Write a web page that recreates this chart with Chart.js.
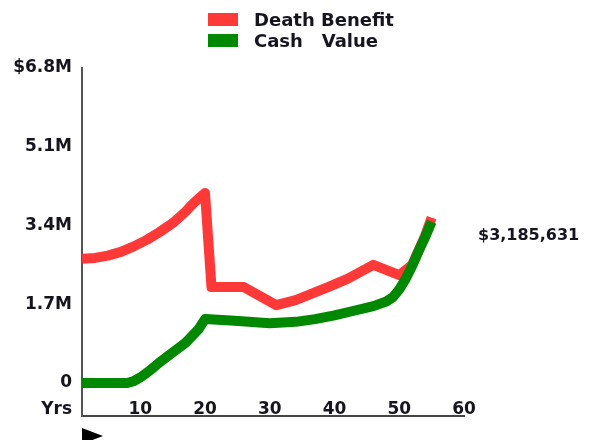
<!DOCTYPE html>
<html>
<head>
<meta charset="utf-8">
<script src="https://cdn.jsdelivr.net/npm/chart.js@4"></script>
<style>
  body { margin: 0; background: #fff; }
  #wrap { width: 597px; height: 440px; }
</style>
</head>
<body>
<div id="wrap"><canvas id="myChart" width="597" height="440"></canvas></div>
<script>
// values in millions of dollars, x = policy year
const benefitYears = [1, 3, 5, 7, 9, 11, 13, 15, 17, 18, 19, 20, 21, 26, 31, 34, 39, 42, 46, 50, 52, 54, 55];
const benefitValues = [2.68, 2.70, 2.75, 2.83, 2.95, 3.09, 3.26, 3.45, 3.70, 3.85, 3.98, 4.10, 2.07, 2.07, 1.68, 1.79, 2.07, 2.25, 2.55, 2.33, 2.55, 3.18, 3.57];

const cashYears = [1, 8, 9, 10, 11, 12, 13, 15, 17, 19, 20, 24, 30, 34, 37, 40, 43, 46, 48, 49, 50, 51, 52, 53, 54, 55];
const cashValues = [0, 0, 0.04, 0.12, 0.22, 0.33, 0.45, 0.66, 0.87, 1.16, 1.38, 1.35, 1.29, 1.32, 1.38, 1.46, 1.56, 1.66, 1.76, 1.85, 2.02, 2.25, 2.53, 2.85, 3.15, 3.48];

const yTickValues = [0, 1.7, 3.4, 5.1, 6.8];
const yTickLabels = ['0', '1.7M', '3.4M', '5.1M', '$6.8M'];
const xTickValues = [10, 20, 30, 40, 50, 60];
const xTickLabels = ['10', '20', '30', '40', '50', '60'];
const xAxisLabel = 'Yrs';
const finalValue = 3185631;

const textColor = '#151520';
const fontFamily = "'DejaVu Sans', sans-serif";

const toPoints = (xs, ys) => xs.map((x, i) => ({ x: x, y: ys[i] }));

// legend, x labels, side value, "Yrs" and the little arrow
const extras = {
    id: 'extras',
    afterDraw(chart) {
        const ctx = chart.ctx;
        const area = chart.chartArea;
        const xScale = chart.scales.x;
        const yScale = chart.scales.y;
        ctx.save();

        // legend (stacked, left aligned)
        ctx.font = 'bold 18px ' + fontFamily;
        ctx.textBaseline = 'middle';
        ctx.textAlign = 'left';
        const items = [chart.data.datasets[1], chart.data.datasets[0]];
        items.forEach((ds, i) => {
            const y = 20 + i * 21;
            ctx.fillStyle = ds.borderColor;
            ctx.fillRect(208, y - 7, 30, 13);
            ctx.fillStyle = textColor;
            ctx.fillText(ds.label, 254, y + 1);
        });

        // x tick labels sit just above the axis line
        ctx.font = 'bold 17px ' + fontFamily;
        ctx.textAlign = 'center';
        xTickValues.forEach((v, i) => {
            ctx.fillText(xTickLabels[i], xScale.getPixelForValue(v), area.bottom - 6);
        });

        // Yrs
        ctx.textAlign = 'right';
        ctx.fillText(xAxisLabel, area.left - 10, area.bottom - 6);

        // value at the right
        ctx.font = 'bold 16px ' + fontFamily;
        ctx.textAlign = 'left';
        ctx.fillText('$' + finalValue.toLocaleString('en-US'), area.right + 14, yScale.getPixelForValue(finalValue / 1e6));

        // arrow under the axis
        ctx.fillStyle = '#000';
        ctx.beginPath();
        ctx.moveTo(area.left, area.bottom + 12);
        ctx.lineTo(area.left + 21, area.bottom + 20);
        ctx.lineTo(area.left, area.bottom + 28);
        ctx.closePath();
        ctx.fill();
        ctx.restore();
    }
};

new Chart(document.getElementById('myChart'), {
    type: 'line',
    data: {
        datasets: [{
            label: 'Cash   Value',
            data: toPoints(cashYears, cashValues),
            borderColor: 'rgb(0, 136, 0)',
            borderWidth: 10,
            pointRadius: 0,
            tension: 0,
            borderJoinStyle: 'round',
            order: 0
        }, {
            label: 'Death Benefit',
            data: toPoints(benefitYears, benefitValues),
            borderColor: 'rgb(255, 56, 56)',
            borderWidth: 10,
            pointRadius: 0,
            tension: 0,
            borderJoinStyle: 'round',
            order: 1
        }]
    },
    options: {
        responsive: false,
        devicePixelRatio: 1,
        animation: false,
        layout: { padding: { top: 68, right: 133, left: 0, bottom: 0 } },
        plugins: {
            legend: { display: false },
            tooltip: { enabled: false }
        },
        scales: {
            x: {
                type: 'linear',
                min: 1,
                max: 60,
                afterBuildTicks: s => { s.ticks = xTickValues.map(v => ({ value: v })); },
                afterFit: s => { s.height = 24; },
                grid: { display: false, drawTicks: false },
                border: { display: true, color: '#444', width: 2 },
                ticks: { display: false }
            },
            y: {
                type: 'linear',
                min: -0.712,
                max: 6.8,
                afterBuildTicks: s => { s.ticks = yTickValues.map(v => ({ value: v })); },
                afterFit: s => { s.width = 82; },
                grid: { display: false, drawTicks: false },
                border: { display: true, color: '#555', width: 2 },
                ticks: {
                    padding: 10,
                    color: textColor,
                    font: { family: fontFamily, size: 17, weight: 'bold' },
                    callback: (v, i) => yTickLabels[i]
                }
            }
        }
    },
    plugins: [extras]
});
</script>
</body>
</html>
